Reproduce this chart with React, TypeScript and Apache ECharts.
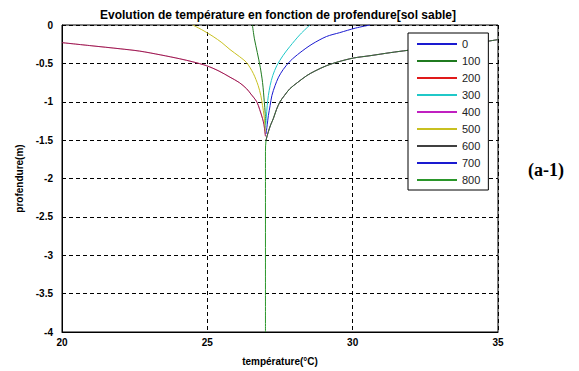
import React, { useEffect, useRef } from "react";
import * as echarts from "echarts";

const seriesNames = ["0", "100", "200", "300", "400", "500", "600", "700", "800"];
const seriesColors = ["#1a1ad0", "#1f7a1f", "#e01a1a", "#20c8c8", "#c020c0", "#c8c020", "#404040", "#1a1ad0", "#2a962a"];
const seriesOpacity = [1, 1, 1, 1, 1, 1, 0.5, 0.35, 1];
const seriesZ = [2, 2, 2, 2, 2, 2, 4, 3, 2];

const xTicks = { min: 20, max: 35, interval: 5 };
const yTicks = { min: -4, max: 0, interval: 0.5 };

// [temperature, depth]
const curveBlue: number[][] = [[30.6, 0], [30.1, -0.04], [29.55, -0.1], [29.1, -0.15], [28.6, -0.25], [28.19, -0.36], [27.85, -0.47], [27.61, -0.58], [27.45, -0.68], [27.33, -0.79], [27.22, -0.92], [27.16, -1.05], [27.1, -1.18], [27.06, -1.3], [27.02, -1.42]];
const curveGreen: number[][] = [[26.55, 0], [26.62, -0.18], [26.72, -0.36], [26.82, -0.55], [26.9, -0.75], [26.96, -1.0], [26.99, -1.15], [27.0, -1.3]];
const curveLeft: number[][] = [[20, -0.23], [21, -0.27], [22, -0.31], [22.67, -0.34], [23.4, -0.39], [24.05, -0.44], [24.5, -0.48], [24.97, -0.53], [25.4, -0.6], [25.78, -0.68], [26.1, -0.75], [26.35, -0.83], [26.5, -0.9], [26.7, -1.0], [26.8, -1.1], [26.9, -1.22], [26.95, -1.3], [26.98, -1.39], [27.0, -1.45]];
const curveCyan: number[][] = [[28.53, 0], [28.2, -0.12], [27.84, -0.28], [27.6, -0.4], [27.39, -0.53], [27.25, -0.66], [27.16, -0.79], [27.1, -0.92], [27.06, -1.05], [27.03, -1.2], [27.0, -1.35]];
const curveYellow: number[][] = [[24.5, 0], [24.85, -0.07], [25.2, -0.15], [25.5, -0.23], [25.78, -0.32], [26.1, -0.41], [26.35, -0.49], [26.58, -0.63], [26.75, -0.79], [26.84, -0.92], [26.9, -1.05], [26.95, -1.18], [26.98, -1.3], [27.0, -1.4]];
const curveRight: number[][] = [[35, -0.19], [34.67, -0.21], [33.8, -0.25], [32.8, -0.29], [31.9, -0.33], [31.3, -0.36], [30.6, -0.4], [30.03, -0.43], [29.5, -0.48], [29.1, -0.53], [28.7, -0.6], [28.42, -0.66], [28.1, -0.75], [27.84, -0.83], [27.65, -0.92], [27.5, -1.0], [27.38, -1.1], [27.27, -1.22], [27.18, -1.3], [27.1, -1.39], [27.02, -1.5]];
const curveRightDeep: number[][] = [...curveRight, [27.0, -1.65], [27.0, -4]];

const seriesData: number[][][] = [curveBlue, curveGreen, curveLeft, curveCyan, curveRight, curveYellow, curveRight, curveLeft, curveRightDeep];

const titleText = "Evolution de température en fonction de profendure[sol sable]";
const xName = "température(°C)";
const yName = "profendure(m)";
const sideLabel = "(a-1)";

export default function App() {
  const ref = useRef<HTMLDivElement>(null);
  useEffect(() => {
    if (!ref.current) return;
    const chart = echarts.init(ref.current, null, { renderer: "svg" });
    const font = "Liberation Sans";
    chart.setOption({
      animation: false,
      backgroundColor: "#ffffff",
      grid: {
        left: 62, top: 25, width: 436, height: 312,
        show: true, borderColor: "#000", borderWidth: 1, backgroundColor: "#fff",
      },
      xAxis: {
        type: "value", min: xTicks.min, max: xTicks.max, interval: xTicks.interval,
        name: xName, nameLocation: "middle", nameGap: 24,
        nameTextStyle: { fontFamily: font, fontWeight: "bold", fontSize: 10, color: "#000" },
        axisLine: { show: true, onZero: false, lineStyle: { color: "#000", width: 1 } },
        axisTick: { show: false },
        axisLabel: { margin: 5, fontFamily: font, fontWeight: "bold", fontSize: 10, color: "#000" },
        splitLine: { show: true, lineStyle: { color: "#000", type: [4, 3], width: 1 } },
      },
      yAxis: {
        type: "value", min: yTicks.min, max: yTicks.max, interval: yTicks.interval,
        name: yName, nameLocation: "middle", nameGap: 38, nameRotate: 90,
        nameTextStyle: { fontFamily: font, fontWeight: "bold", fontSize: 10, color: "#000" },
        axisLine: { show: true, onZero: false, lineStyle: { color: "#000", width: 1 } },
        axisTick: { show: false },
        axisLabel: { margin: 9, fontFamily: font, fontWeight: "bold", fontSize: 10, color: "#000" },
        splitLine: { show: true, lineStyle: { color: "#000", type: [4, 3], width: 1 } },
      },
      legend: {
        left: 408, top: 33, orient: "vertical", z: 50,
        padding: [5, 8, 4, 9],
        borderColor: "#000", borderWidth: 1, backgroundColor: "#fff",
        itemWidth: 40, itemHeight: 2, itemGap: 5, itemTextGap: 5,
        icon: "rect",
        textStyle: { fontFamily: font, fontSize: 11, color: "#222", lineHeight: 12 },
        data: seriesNames.map((n, i) => ({ name: n, itemStyle: { color: seriesColors[i], opacity: 1 } })),
      },
      graphic: [
        {
          type: "text", x: 278, y: 15,
          style: { text: titleText, fill: "#000", font: `bold 12px "${font}"`, align: "center", verticalAlign: "middle" },
        },
        {
          type: "text", x: 546, y: 170,
          style: { text: sideLabel, fill: "#000", font: 'bold 18px "Liberation Serif"', align: "center", verticalAlign: "middle" },
        },
      ],
      series: seriesNames.map((n, i) => ({
        name: n,
        type: "line",
        data: seriesData[i],
        showSymbol: false,
        symbol: "none",
        smooth: 0.3,
        color: seriesColors[i],
        lineStyle: { width: 1, color: seriesColors[i], opacity: seriesOpacity[i] },
        z: seriesZ[i],
      })),
    });
    return () => chart.dispose();
  }, []);
  return <div ref={ref} style={{ position: "absolute", left: 0, top: 0, width: 579, height: 371 }} />;
}
